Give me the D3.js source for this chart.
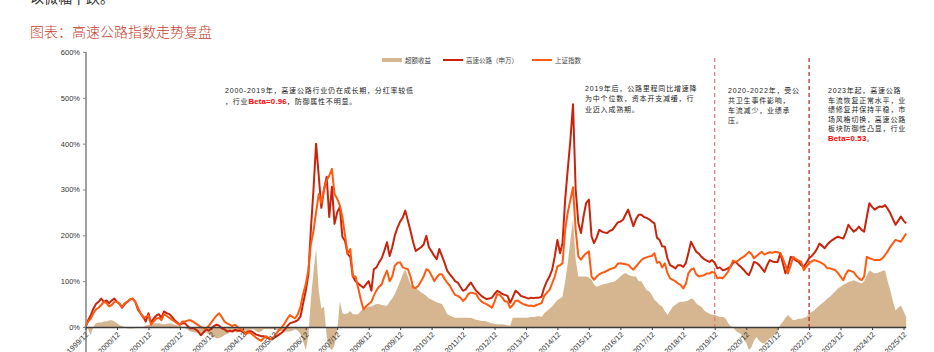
<!DOCTYPE html>
<html><head><meta charset="utf-8">
<script src="https://cdn.jsdelivr.net/npm/d3@7"></script>
<style>
body{margin:0;background:#fff;}
svg{display:block;font-family:"Liberation Sans","Noto Sans CJK SC",sans-serif;}
</style></head><body>
<svg id="c" width="934" height="352"></svg>
<script>
// ---------------- DATA ----------------
const months = [
"1999-12",
"2000-01","2000-02","2000-03","2000-04","2000-05","2000-06","2000-07","2000-08","2000-09","2000-10","2000-11","2000-12",
"2001-01","2001-02","2001-03","2001-04","2001-05","2001-06","2001-07","2001-08","2001-09","2001-10","2001-11","2001-12",
"2002-01","2002-02","2002-03","2002-04","2002-05","2002-06","2002-07","2002-08","2002-09","2002-10","2002-11","2002-12",
"2003-01","2003-02","2003-03","2003-04","2003-05","2003-06","2003-07","2003-08","2003-09","2003-10","2003-11","2003-12",
"2004-01","2004-02","2004-03","2004-04","2004-05","2004-06","2004-07","2004-08","2004-09","2004-10","2004-11","2004-12",
"2005-01","2005-02","2005-03","2005-04","2005-05","2005-06","2005-07","2005-08","2005-09","2005-10","2005-11","2005-12",
"2006-01","2006-02","2006-03","2006-04","2006-05","2006-06","2006-07","2006-08","2006-09","2006-10","2006-11","2006-12",
"2007-01","2007-02","2007-03","2007-04","2007-05","2007-06","2007-07","2007-08","2007-09","2007-10","2007-11","2007-12",
"2008-01","2008-02","2008-03","2008-04","2008-05","2008-06","2008-07","2008-08","2008-09","2008-10","2008-11","2008-12",
"2009-01","2009-02","2009-03","2009-04","2009-05","2009-06","2009-07","2009-08","2009-09","2009-10","2009-11","2009-12",
"2010-01","2010-02","2010-03","2010-04","2010-05","2010-06","2010-07","2010-08","2010-09","2010-10","2010-11","2010-12",
"2011-01","2011-02","2011-03","2011-04","2011-05","2011-06","2011-07","2011-08","2011-09","2011-10","2011-11","2011-12",
"2012-01","2012-02","2012-03","2012-04","2012-05","2012-06","2012-07","2012-08","2012-09","2012-10","2012-11","2012-12",
"2013-01","2013-02","2013-03","2013-04","2013-05","2013-06","2013-07","2013-08","2013-09","2013-10","2013-11","2013-12",
"2014-01","2014-02","2014-03","2014-04","2014-05","2014-06","2014-07","2014-08","2014-09","2014-10","2014-11","2014-12",
"2015-01","2015-02","2015-03","2015-04","2015-05","2015-06","2015-07","2015-08","2015-09","2015-10","2015-11","2015-12",
"2016-01","2016-02","2016-03","2016-04","2016-05","2016-06","2016-07","2016-08","2016-09","2016-10","2016-11","2016-12",
"2017-01","2017-02","2017-03","2017-04","2017-05","2017-06","2017-07","2017-08","2017-09","2017-10","2017-11","2017-12",
"2018-01","2018-02","2018-03","2018-04","2018-05","2018-06","2018-07","2018-08","2018-09","2018-10","2018-11","2018-12",
"2019-01","2019-02","2019-03","2019-04","2019-05","2019-06","2019-07","2019-08","2019-09","2019-10","2019-11","2019-12",
"2020-01","2020-02","2020-03","2020-04","2020-05","2020-06","2020-07","2020-08","2020-09","2020-10","2020-11","2020-12",
"2021-01","2021-02","2021-03","2021-04","2021-05","2021-06","2021-07","2021-08","2021-09","2021-10","2021-11","2021-12",
"2022-01","2022-02","2022-03","2022-04","2022-05","2022-06","2022-07","2022-08","2022-09","2022-10","2022-11","2022-12",
"2023-01","2023-02","2023-03","2023-04","2023-05","2023-06","2023-07","2023-08","2023-09","2023-10","2023-11","2023-12",
"2024-01","2024-02","2024-03","2024-04","2024-05","2024-06","2024-07","2024-08","2024-09","2024-10","2024-11","2024-12",
"2025-01","2025-02","2025-03","2025-04","2025-05","2025-06","2025-07","2025-08","2025-09","2025-10","2025-11","2025-12",
"2026-01"
];

// 高速公路（申万） cumulative return, %
const highway = [
0,
15,25,40,50,55,62,55,58,52,58,62,55,
50,42,50,55,60,62,55,38,30,22,12,30,
8,18,25,28,20,34,30,28,22,15,10,5,
8,8,2,-3,-2,-5,-10,-18,-12,-5,-8,-3,
2,5,3,-3,-5,-10,-8,-10,-6,-8,-8,-10,
-13,-10,-9,-12,-16,-18,-20,-20,-23,-25,-27,-23,
-20,-16,-12,-6,2,8,10,12,15,23,51,79,
115,211,300,400,330,260,300,328,240,306,225,250,
262,197,188,159,153,110,100,95,90,86,93,100,
79,126,130,141,150,166,185,155,174,200,217,230,
239,254,232,210,185,166,170,174,180,199,174,165,
155,148,170,155,140,123,115,108,100,97,88,79,
82,90,97,88,79,74,68,64,61,62,64,72,
79,76,72,70,68,53,65,79,75,68,66,64,
62,64,63,64,64,66,86,100,110,125,154,190,
161,183,278,344,409,486,300,227,205,242,271,278,
198,183,195,212,208,206,205,210,212,220,228,230,
234,245,256,238,220,235,245,245,240,238,235,230,
226,195,190,176,175,150,135,132,128,135,135,131,
140,161,186,175,164,160,153,148,145,142,146,140,
128,130,124,125,128,131,140,142,136,131,125,118,
113,125,142,140,135,128,120,135,146,143,142,142,
161,140,117,130,153,150,145,142,135,131,140,150,
155,161,170,182,177,172,180,186,190,194,197,195,
193,205,223,215,208,212,219,212,208,240,270,262,
256,260,263,262,266,258,248,235,223,232,241,232,
226
];

// 上证指数 cumulative return, %
const sse = [
0,
12,18,30,38,42,48,55,52,45,48,55,55,
50,44,52,55,60,62,55,42,30,20,22,25,
5,12,18,20,15,28,24,20,16,12,8,5,
12,12,14,15,12,8,4,0,-2,-3,2,10,
18,25,30,22,12,8,5,2,5,0,-4,-8,
-16,-12,-13,-18,-23,-27,-30,-24,-20,-25,-27,-20,
-12,-6,0,8,18,26,22,19,28,44,72,93,
125,180,210,250,290,270,300,320,330,345,290,280,
265,240,200,160,170,110,110,85,60,38,45,50,
55,68,80,88,93,110,123,100,110,134,140,141,
130,128,126,110,86,85,90,100,110,126,123,112,
100,108,115,115,105,97,90,79,70,68,64,57,
62,72,75,74,72,62,56,52,50,46,42,55,
72,70,64,56,55,42,48,57,58,53,50,48,
46,47,45,48,50,52,68,75,81,95,110,132,
135,139,212,250,278,305,212,154,147,155,161,165,
110,103,110,115,118,120,123,126,128,130,138,139,
138,137,136,130,125,132,139,146,150,152,154,155,
161,140,142,130,139,118,106,103,100,95,92,84,
95,117,125,128,115,110,112,113,117,117,120,118,
106,108,106,112,120,131,145,142,145,150,153,158,
164,160,150,155,160,164,158,161,163,162,164,163,
161,150,135,117,135,153,148,145,142,124,132,139,
143,146,144,142,139,135,128,128,126,124,118,110,
102,115,124,122,120,112,106,102,110,153,150,148,
146,146,146,150,157,165,175,183,190,188,186,195,
204
];

// 超额收益, %
const excess = [
0,
-5,-18,0,8,10,10,12,12,14,15,12,8,
4,2,0,-3,-3,-3,-2,-2,0,0,3,5,
6,8,8,8,7,6,7,8,7,5,4,3,
0,-2,-6,-10,-11,-12,-13,-15,-13,-12,-15,-20,
-22,-25,-24,-22,-18,-15,-12,-10,-11,-12,-10,-8,
-8,-8,-6,-5,-8,-12,-10,-5,-5,-5,-5,-5,
-6,-8,-9,-10,-10,-10,-8,-5,-8,-15,-30,-50,
-20,60,120,170,80,40,45,-20,-45,-50,-40,-10,
57,30,28,30,35,28,28,28,35,40,42,45,
45,48,50,50,48,47,46,55,62,72,85,100,
115,126,110,93,90,86,80,76,72,68,62,60,
57,54,52,50,40,28,25,22,20,20,20,20,
20,20,20,18,16,15,13,13,12,10,8,7,
6,6,6,5,4,2,20,20,20,20,20,20,
21,22,22,23,24,22,30,35,40,45,52,59,
62,66,100,139,190,234,147,110,110,110,110,108,
103,92,88,90,92,94,95,97,98,100,105,110,
115,118,114,112,110,110,100,100,90,81,78,70,
59,55,48,45,35,26,35,44,48,53,55,55,
56,58,62,60,52,47,44,36,32,29,27,26,
24,22,22,20,10,2,0,-8,-12,-15,-25,-35,
-50,-44,-30,-22,-30,-35,-36,-30,-25,-20,-15,-12,
5,11,20,26,20,15,16,18,18,20,22,30,
33,36,42,47,52,56,62,66,72,78,84,88,
92,95,98,100,102,100,97,95,100,112,124,120,
117,118,120,122,124,100,80,55,36,42,47,35,
22
];

const yTicks = [0,100,200,300,400,500,600];
const xTickLabels = ["1999/12","2000/12","2001/12","2002/12","2003/12","2004/12","2005/12","2006/12","2007/12","2008/12","2009/12","2010/12","2011/12","2012/12","2013/12","2014/12","2015/12","2016/12","2017/12","2018/12","2019/12","2020/12","2021/12","2022/12","2023/12","2024/12","2025/12"];
const seriesNames = ["超额收益","高速公路（申万）","上证指数"];
const phaseLines = ["2019/12","2022/12"];

const titleText = "图表：高速公路指数走势复盘";
const topText = "以微幅下跌。";
const notes = [
  {x:225, y:93, lh:10.5, lines:[[["2000-2019年，高速公路行业仍在成长期，分红率较低",0]],[["，行业",0],["Beta=0.96",1],["，防御属性不明显。",0]]]},
  {x:585, y:91, lh:10.3, lines:[[["2019年后，公路里程同比增速降",0]],[["为中个位数，资本开支减缓，行",0]],[["业迈入成熟期。",0]]]},
  {x:728, y:93, lh:10, lines:[[["2020-2022年，受公",0]],[["共卫生事件影响，",0]],[["车流减少，业绩承",0]],[["压。",0]]]},
  {x:828, y:93, lh:9.5, lines:[[["2023年起，高速公路",0]],[["车流恢复正常水平，业",0]],[["绩修复并保持平稳，市",0]],[["场风格切换，高速公路",0]],[["板块防御性凸显，行业",0]],[["Beta=0.53",1],["。",0]]]}
];

// ---------------- CHART ----------------
const colors = {excess:"#d5b690", highway:"#c9230c", sse:"#ff5a10"};
const svg = d3.select("#c");
const parseM = d3.timeParse("%Y-%m");
const parseT = d3.timeParse("%Y/%m");
const toDate = m => d3.timeMonth.offset(parseM(m), 1);
const tickDate = t => d3.timeMonth.offset(parseT(t), 1);

const x = d3.scaleTime().domain([tickDate("1999/12"), tickDate("2025/12")]).range([85.5, 903.5]);
const y = d3.scaleLinear().domain([0, 600]).range([327, 52]);

const data = months.map((m,i)=>({d:toDate(m), h:highway[i], s:sse[i], e:excess[i]}));

// title & top text
svg.append("text").attr("x",30).attr("y",3).attr("font-size",14).attr("fill","#333")
  .attr("font-family","Noto Sans CJK SC").text(topText);
svg.append("text").attr("x",30).attr("y",37).attr("font-size",14).attr("fill","#c8402e")
  .attr("font-family","Noto Sans CJK SC").attr("font-weight",300).text(titleText);

// excess area
svg.append("path").datum(data)
  .attr("fill",colors.excess)
  .attr("d", d3.area().x(d=>x(d.d)).y0(y(0)).y1(d=>y(d.e)));

// phase lines
phaseLines.forEach((p,i)=>{
  svg.append("line").attr("x1",x(tickDate(p))).attr("x2",x(tickDate(p)))
    .attr("y1",58).attr("y2",y(0))
    .attr("stroke", i===0 ? "#e07575" : "#b5201c").attr("stroke-width",1.2)
    .attr("stroke-dasharray","4,3");
});

// lines
svg.append("path").datum(data).attr("fill","none").attr("stroke",colors.highway).attr("stroke-width",2)
  .attr("stroke-linejoin","round").attr("d", d3.line().x(d=>x(d.d)).y(d=>y(d.h)));
svg.append("path").datum(data).attr("fill","none").attr("stroke",colors.sse).attr("stroke-width",2)
  .attr("stroke-linejoin","round").attr("d", d3.line().x(d=>x(d.d)).y(d=>y(d.s)));

// y axis
const yAx = svg.append("g").attr("transform","translate(86,0)")
  .call(d3.axisLeft(y).tickValues(yTicks).tickFormat(d=>d+"%").tickSize(3).tickSizeOuter(0));
yAx.select(".domain").remove();
yAx.selectAll(".tick line").attr("stroke","#888");
yAx.selectAll("text").attr("font-size",7.5).attr("fill","#333").attr("font-family","Liberation Sans").attr("x",-6);
svg.append("line").attr("x1",86).attr("x2",86).attr("y1",52).attr("y2",352).attr("stroke","#8a8a8a").attr("stroke-width",1.6);

// x axis
const xAx = svg.append("g").attr("transform",`translate(0,${y(0)})`)
  .call(d3.axisBottom(x).tickValues(xTickLabels.map(tickDate)).tickFormat((d,i)=>xTickLabels[i]).tickSize(3).tickSizeOuter(0));
xAx.select(".domain").attr("stroke","#3a3a3a").attr("stroke-width",1.3).attr("d",`M86,0.5H${x(toDate(months[months.length-1]))}`);
xAx.selectAll(".tick line").attr("stroke","#3a3a3a");
xAx.selectAll("text").attr("font-size",7.5).attr("fill","#333").attr("font-family","Liberation Sans")
  .attr("text-anchor","end").attr("y",0).attr("dy",0)
  .attr("transform","translate(3,8) rotate(-45)");

// legend
const lg = svg.append("g");
const legendItems = [
  {name:seriesNames[0], x:382, type:"rect", color:colors.excess},
  {name:seriesNames[1], x:443, type:"line", color:colors.highway},
  {name:seriesNames[2], x:532, type:"line", color:colors.sse}
];
legendItems.forEach(it=>{
  if(it.type==="rect") lg.append("rect").attr("x",it.x).attr("y",58).attr("width",20).attr("height",4).attr("fill",it.color);
  else lg.append("line").attr("x1",it.x).attr("x2",it.x+20).attr("y1",60).attr("y2",60).attr("stroke",it.color).attr("stroke-width",2);
  lg.append("text").attr("x",it.x+23).attr("y",62.5).attr("font-size",6.5).attr("fill","#444").text(it.name);
});

// annotations
notes.forEach(n=>{
  n.lines.forEach((ln,li)=>{
    const t = svg.append("text").attr("x",n.x).attr("y",n.y+li*n.lh)
      .attr("font-size",7).attr("letter-spacing",0.8).attr("fill","#222");
    ln.forEach(([s,hl])=>{
      const ts = t.append("tspan").text(s);
      if(hl) ts.attr("fill","#ff0000").attr("font-weight","bold").attr("font-size",7.8).attr("letter-spacing",0.2);
    });
  });
});
</script>
</body></html>
